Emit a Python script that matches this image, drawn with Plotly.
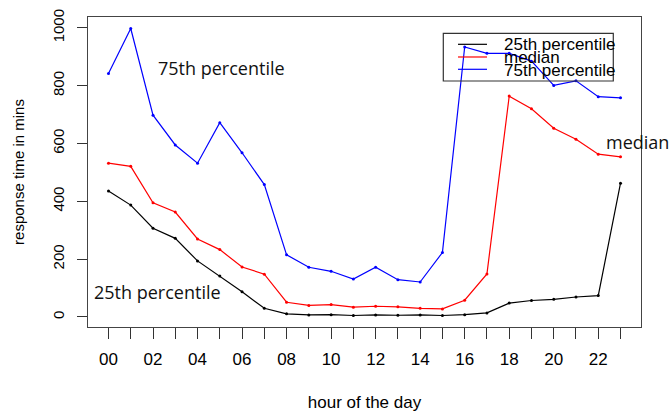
import plotly.graph_objects as go

hours = list(range(24))
tick_labels = ["00", "", "02", "", "04", "", "06", "", "08", "", "10", "",
               "12", "", "14", "", "16", "", "18", "", "20", "", "22", ""]
p25 = [436, 387, 307, 272, 194, 142, 87, 30, 11, 7, 8, 5, 7, 6, 7, 5, 8, 14, 48, 57, 61, 69, 74, 463]
median = [532, 521, 395, 363, 270, 233, 173, 148, 51, 40, 43, 34, 37, 35, 30, 28, 58, 149, 764, 720, 653, 615, 563, 554]
p75 = [842, 998, 698, 595, 532, 672, 568, 458, 215, 172, 158, 131, 172, 129, 121, 223, 934, 912, 912, 885, 801, 817, 762, 758]
y_ticks = [0, 200, 400, 600, 800, 1000]

series_names = ["25th percentile", "median", "75th percentile"]
series_colors = ["#000000", "#ff0000", "#0000ff"]
series_values = [p25, median, p75]

fig = go.Figure()
for name, col, vals in zip(series_names, series_colors, series_values):
    fig.add_trace(go.Scatter(
        x=hours, y=vals, name=name, mode="lines+markers",
        line=dict(color=col, width=1.2),
        marker=dict(color=col, size=3),
        showlegend=False,
    ))

axis_font = dict(family="Liberation Sans, Arial, sans-serif", color="#000000")

fig.update_layout(
    width=671, height=416,
    margin=dict(l=88, r=30, t=17, b=89),
    paper_bgcolor="white", plot_bgcolor="white",
    showlegend=False,
    xaxis=dict(
        range=[-0.92, 23.92], tickmode="array", tickvals=hours, ticktext=tick_labels,
        ticks="outside", ticklen=11, tickcolor="#333333", tickwidth=1,
        ticklabelstandoff=5,
        showline=True, mirror=True, linecolor="#444444", linewidth=1.2,
        showgrid=False, zeroline=False, automargin=False,
        tickfont=dict(size=17, **axis_font),
        title=dict(text="hour of the day", font=dict(size=17, **axis_font), standoff=28),
    ),
    yaxis=dict(
        range=[-34.7, 1037.7], tickmode="array", tickvals=y_ticks,
        ticktext=[str(v) for v in y_ticks], tickangle=-90,
        ticks="outside", ticklen=10, tickcolor="#333333", tickwidth=1,
        ticklabelstandoff=7,
        showline=True, mirror=True, linecolor="#444444", linewidth=1.2,
        showgrid=False, zeroline=False, automargin=False,
        tickfont=dict(size=15, **axis_font),
        title=dict(text="response time in mins", font=dict(size=15, **axis_font), standoff=21),
    ),
)

# in-plot labels
label_font = dict(family="Open Sans, Noto Sans, sans-serif", size=18, color="#111111")
fig.add_annotation(x=2.13, y=862, xref="x", yref="y", text="75th percentile",
                   showarrow=False, xanchor="left", yanchor="middle", font=label_font)
fig.add_annotation(x=-0.75, y=86, xref="x", yref="y", text="25th percentile",
                   showarrow=False, xanchor="left", yanchor="middle", font=label_font)
fig.add_annotation(x=22.28, y=604, xref="x", yref="y", text="median",
                   showarrow=False, xanchor="left", yanchor="middle", font=label_font)

# legend drawn as in the original (box, line keys, overlapping text)
fig.add_shape(type="rect", xref="paper", yref="paper", x0=0.6425, x1=0.9499,
              y0=0.7935, y1=0.9474, line=dict(color="#333333", width=1.2),
              fillcolor="rgba(0,0,0,0)")
key_y = [0.9119, 0.8710, 0.8313]
text_y = [0.9097, 0.8694, 0.8290]
for name, col, ky, ty in zip(series_names, series_colors, key_y, text_y):
    fig.add_shape(type="line", xref="paper", yref="paper", x0=0.6691, x1=0.7215,
                  y0=ky, y1=ky, line=dict(color=col, width=1.2))
    fig.add_annotation(x=0.7481, y=ty, xref="paper", yref="paper", text=name,
                       showarrow=False, xanchor="left", yanchor="middle",
                       font=dict(size=17, **axis_font))

fig.write_html("out.html", config={"displayModeBar": False},
               post_script="document.body.style.margin='0px';document.body.style.overflow='hidden';")
